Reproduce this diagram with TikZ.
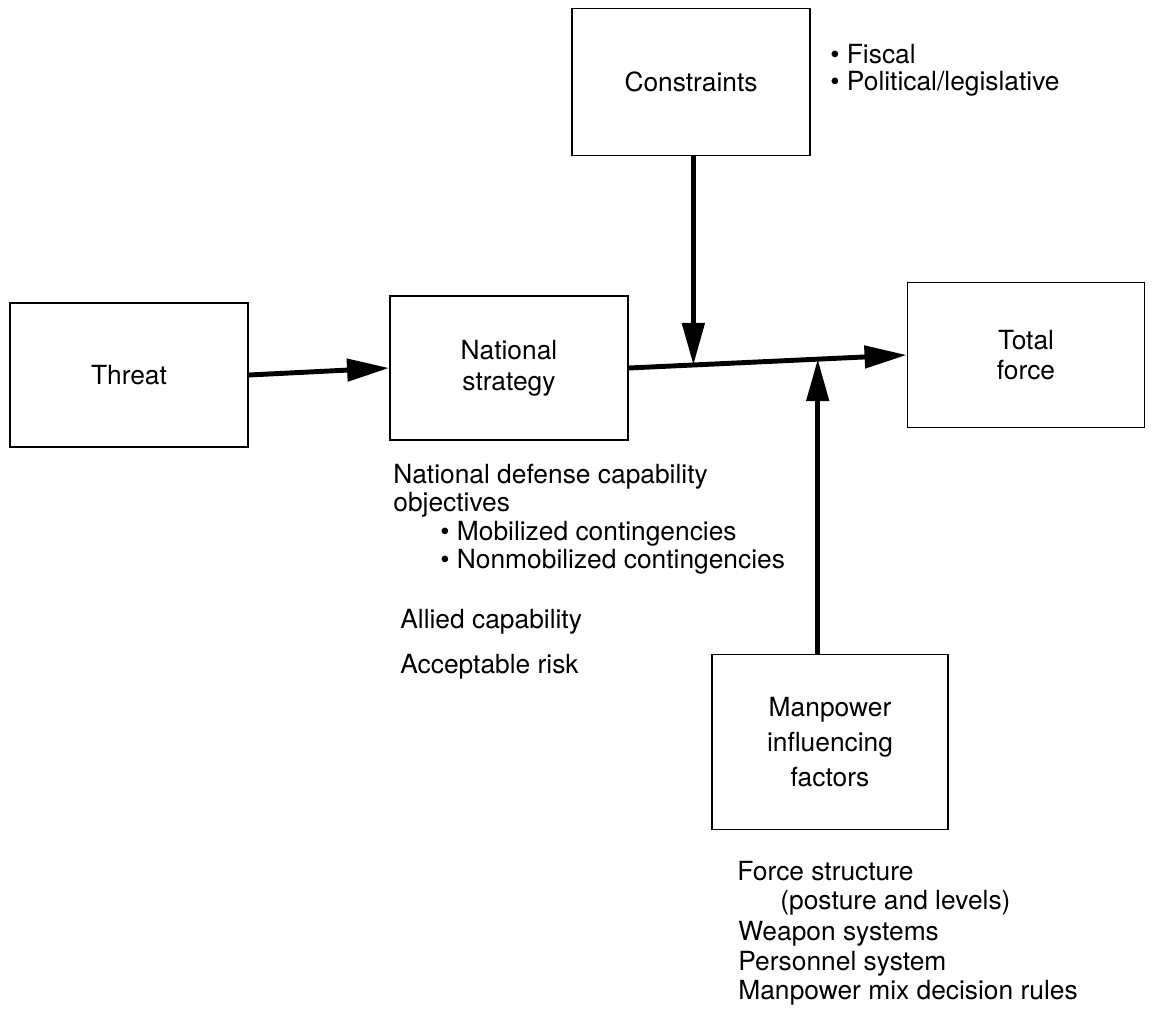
\documentclass[tikz,border=0pt]{standalone}
\usepackage{fontspec}
\setmainfont{TeX Gyre Heros}
\usetikzlibrary{arrows.meta,positioning,calc}

\tikzset{
  block/.style={draw, line width=1.1pt, minimum width=238*0.02cm, minimum height=144*0.02cm, align=center, inner sep=0pt},
  flow/.style={line width=2.8pt, -{Triangle[length=0.84cm, width=0.44cm]}},
  item/.style={anchor=base west, inner sep=0pt},
}

\begin{document}
\begin{tikzpicture}[x=0.02cm, y=-0.02cm, font=\fontsize{15}{17.5}\selectfont]
  \useasboundingbox (0,0) rectangle (1155,1013);
  % boxes
  \node[block] (threat) at (129,375) {Threat};
  \node[block] (strategy) at (509,368) {National\\strategy};
  \node[block, minimum height=147*0.02cm] (constraints) at (691,82) {Constraints};
  \node[block, minimum width=237*0.02cm, minimum height=145*0.02cm] (total) at (1026,355) {Total\\force};
  \node[block, minimum width=236*0.02cm, minimum height=175*0.02cm, font=\fontsize{15}{20}\selectfont] (manpower) at (830,742) {Manpower\\influencing\\factors};
  % joining points on the main line
  \coordinate (cjoin) at ($(strategy.east)!0.232!(total.west)$);
  \coordinate (mjoin) at ($(strategy.east)!0.68!(total.west)$);
  % connectors
  \draw[flow] (threat.east) -- (strategy.west);
  \draw[flow] (strategy.east) -- (total.west);
  \draw[flow] (constraints.south -| cjoin) -- (cjoin);
  \draw[flow] (manpower.north -| mjoin) -- (mjoin);
  % constraint list
  \node[item] (fiscal) at (830,64) {\textbullet\ Fiscal};
  \node[item] (political) at (830,91) {\textbullet\ Political/legislative};
  % strategy list
  \node[item] (nd1) at (393,483) {National defense capability};
  \node[item] (nd2) at (393,511) {objectives};
  \node[item] (mob) at (440,540) {\textbullet\ Mobilized contingencies};
  \node[item] (nonmob) at (440,568) {\textbullet\ Nonmobilized contingencies};
  \node[item] (allied) at (400,628) {Allied capability};
  \node[item] (risk) at (400,673) {Acceptable risk};
  % manpower list
  \node[item] (fs1) at (737,880) {Force structure};
  \node[item] (fs2) at (780,909) {(posture and levels)};
  \node[item] (weapon) at (738,940) {Weapon systems};
  \node[item] (personnel) at (738,970) {Personnel system};
  \node[item] (mix) at (738,999) {Manpower mix decision rules};
\end{tikzpicture}
\end{document}
